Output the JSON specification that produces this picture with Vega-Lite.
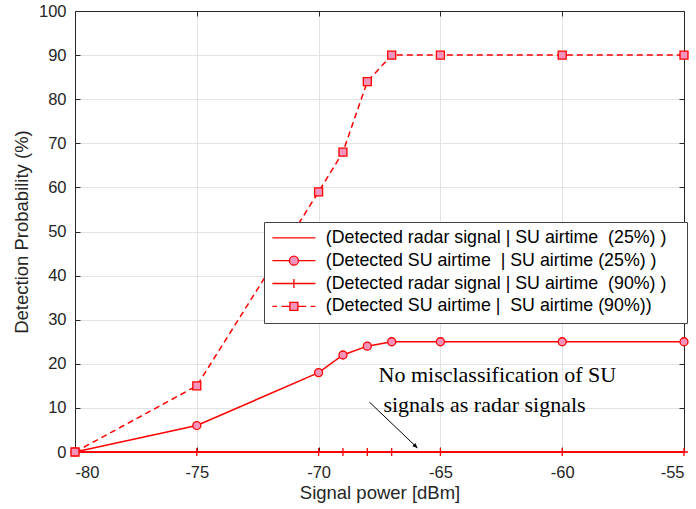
{
  "$schema": "https://vega.github.io/schema/vega-lite/v6.json",
  "width": 609,
  "height": 441,
  "autosize": {"type": "none"},
  "padding": {"left": 75, "top": 11, "right": 12, "bottom": 57},
  "background": "white",
  "config": {
    "view": {"stroke": null},
    "font": "Liberation Sans",
    "axis": {
      "labelFont": "Liberation Sans", "labelFontSize": 16.5, "labelColor": "#262626",
      "titleFont": "Liberation Sans", "titleFontSize": 18.5, "titleFontWeight": "normal", "titleColor": "#262626",
      "domainColor": "#262626", "tickColor": "#262626", "gridColor": "#e3e3e3", "gridWidth": 1,
      "tickSize": -5, "domainWidth": 1
    }
  },
  "datasets": {
    "curves": [
      {"s": "r25", "x": -80, "y": 0}, {"s": "r25", "x": -75, "y": 0}, {"s": "r25", "x": -70, "y": 0},
      {"s": "r25", "x": -69, "y": 0}, {"s": "r25", "x": -68, "y": 0}, {"s": "r25", "x": -67, "y": 0},
      {"s": "r25", "x": -65, "y": 0}, {"s": "r25", "x": -60, "y": 0}, {"s": "r25", "x": -55, "y": 0},
      {"s": "s25", "x": -80, "y": 0}, {"s": "s25", "x": -75, "y": 6}, {"s": "s25", "x": -70, "y": 18},
      {"s": "s25", "x": -69, "y": 22}, {"s": "s25", "x": -68, "y": 24}, {"s": "s25", "x": -67, "y": 25},
      {"s": "s25", "x": -65, "y": 25}, {"s": "s25", "x": -60, "y": 25}, {"s": "s25", "x": -55, "y": 25},
      {"s": "r90", "x": -80, "y": 0}, {"s": "r90", "x": -75, "y": 0}, {"s": "r90", "x": -70, "y": 0},
      {"s": "r90", "x": -69, "y": 0}, {"s": "r90", "x": -68, "y": 0}, {"s": "r90", "x": -67, "y": 0},
      {"s": "r90", "x": -65, "y": 0}, {"s": "r90", "x": -60, "y": 0}, {"s": "r90", "x": -55, "y": 0},
      {"s": "s90", "x": -80, "y": 0}, {"s": "s90", "x": -75, "y": 15}, {"s": "s90", "x": -70, "y": 59},
      {"s": "s90", "x": -69, "y": 68}, {"s": "s90", "x": -68, "y": 84}, {"s": "s90", "x": -67, "y": 90},
      {"s": "s90", "x": -65, "y": 90}, {"s": "s90", "x": -60, "y": 90}, {"s": "s90", "x": -55, "y": 90}
    ],
    "notes": [
      {"x": -67.54, "y": 15.9, "t": "No misclassification of SU"},
      {"x": -67.34, "y": 9.1, "t": "signals as radar signals"}
    ],
    "arrow": [
      {"x": -67.91, "y": 11.3, "x2": -65.94, "y2": 0.9}
    ]
  },
  "layer": [
    {
      "data": {"name": "curves"},
      "transform": [{"filter": "datum.s != 's90'"}],
      "mark": {"type": "line", "color": "red", "strokeWidth": 1.5},
      "encoding": {
        "x": {"field": "x", "type": "quantitative",
              "scale": {"domain": [-80, -55], "nice": false, "zero": false},
              "axis": {"orient": "bottom", "values": [-80, -75, -70, -65, -60, -55], "labelExpr": "toString(datum.value)", "title": "Signal power [dBm]", "grid": true, "labelPadding": 17, "titlePadding": 3}},
        "y": {"field": "y", "type": "quantitative",
              "scale": {"domain": [0, 100], "nice": false},
              "axis": {"orient": "left", "values": [0, 10, 20, 30, 40, 50, 60, 70, 80, 90, 100], "labelExpr": "toString(datum.value)", "title": "Detection Probability (%)", "grid": true, "labelPadding": 14, "titlePadding": 7}},
        "detail": {"field": "s"}
      }
    },
    {
      "data": {"name": "curves"},
      "transform": [{"filter": "datum.s == 's90'"}],
      "mark": {"type": "line", "color": "red", "strokeWidth": 1.5, "strokeDash": [6, 4]},
      "encoding": {
        "x": {"field": "x", "type": "quantitative", "axis": null},
        "y": {"field": "y", "type": "quantitative", "axis": null}
      }
    },
    {
      "data": {"name": "curves"},
      "mark": {"type": "point", "opacity": 0},
      "encoding": {
        "x": {"field": "x", "type": "quantitative",
              "axis": {"orient": "top", "values": [-80, -75, -70, -65, -60, -55], "labels": false, "title": null, "grid": false}},
        "y": {"field": "y", "type": "quantitative",
              "axis": {"orient": "right", "values": [0, 10, 20, 30, 40, 50, 60, 70, 80, 90, 100], "labels": false, "title": null, "grid": false}}
      }
    },
    {
      "data": {"name": "curves"},
      "transform": [{"filter": "datum.s == 's25'"}],
      "mark": {"type": "point", "shape": "circle", "filled": true, "fill": "#f794bd", "stroke": "red", "strokeWidth": 1.3, "size": 64, "opacity": 1},
      "encoding": {
        "x": {"field": "x", "type": "quantitative", "axis": null},
        "y": {"field": "y", "type": "quantitative", "axis": null}
      }
    },
    {
      "data": {"name": "curves"},
      "transform": [{"filter": "datum.s == 'r90'"}],
      "mark": {"type": "point", "shape": "M-1,0H1M0,-1V1", "filled": false, "stroke": "red", "strokeWidth": 1.3, "size": 64, "opacity": 1},
      "encoding": {
        "x": {"field": "x", "type": "quantitative", "axis": null},
        "y": {"field": "y", "type": "quantitative", "axis": null}
      }
    },
    {
      "data": {"name": "curves"},
      "transform": [{"filter": "datum.s == 's90'"}],
      "mark": {"type": "point", "shape": "square", "filled": true, "fill": "#f794bd", "stroke": "red", "strokeWidth": 1.3, "size": 64, "opacity": 1},
      "encoding": {
        "x": {"field": "x", "type": "quantitative", "axis": null},
        "y": {"field": "y", "type": "quantitative", "axis": null}
      }
    },
    {
      "data": {"name": "curves"},
      "mark": {"type": "point", "filled": true, "strokeWidth": 1.3, "opacity": 0},
      "encoding": {
        "x": {"field": "x", "type": "quantitative", "axis": null},
        "y": {"field": "y", "type": "quantitative", "axis": null},
        "stroke": {"field": "s", "type": "nominal",
          "scale": {"domain": ["r25", "s25", "r90", "s90"], "range": ["red", "red", "red", "red"]},
          "legend": {"orient": "none", "legendX": 189, "legendY": 211, "title": null}},
        "fill": {"field": "s", "type": "nominal",
          "scale": {"domain": ["r25", "s25", "r90", "s90"], "range": ["#f794bd", "#f794bd", "#f794bd", "#f794bd"]},
          "legend": {"orient": "none", "legendX": 189, "legendY": 211, "title": null}},
        "shape": {"field": "s", "type": "nominal",
          "scale": {"domain": ["r25", "s25", "r90", "s90"],
                    "range": [
                      "M-1.875,0H8.875",
                      "M-1.875,0H2.375M4.625,0H8.875M2.375,0A1.125,1.125,0,1,1,4.625,0A1.125,1.125,0,1,1,2.375,0Z",
                      "M-1.875,0H8.875M3.5,-1.1V1.1",
                      "M-1.875,0H-0.7M0.4,0H2.5M2.5,-1H4.5V1H2.5ZM4.5,0H6.6M7.7,0H8.875"
                    ]},
          "legend": {
            "orient": "none", "legendX": 189, "legendY": 211, "title": null,
            "labelExpr": "datum.value == 'r25' ? '(Detected radar signal | SU airtime\u00a0 (25%) )' : datum.value == 's25' ? '(Detected SU airtime\u00a0 | SU airtime (25%) )' : datum.value == 'r90' ? '\u2009(Detected radar signal | SU airtime\u00a0 (90%) )\u2800' : '(Detected SU airtime |\u00a0 SU airtime (90%))'",
            "labelFont": "Liberation Sans", "labelFontSize": 17.8, "labelColor": "#000000", "labelLimit": 500,
            "symbolSize": 64, "symbolOpacity": 1, "symbolStrokeWidth": 1.3,
            "labelOffset": 37, "padding": 7, "rowPadding": 3.8,
            "strokeColor": "#444444", "fillColor": "white", "cornerRadius": 0,
            "encode": {"symbols": {"strokeWidth": {"value": 1.3}, "opacity": {"value": 1}}}
          }
        }
      }
    },
    {
      "data": {"name": "notes"},
      "mark": {"type": "text", "align": "left", "baseline": "alphabetic", "font": "Liberation Serif", "fontSize": 22, "color": "black"},
      "encoding": {
        "x": {"field": "x", "type": "quantitative", "axis": null},
        "y": {"field": "y", "type": "quantitative", "axis": null},
        "text": {"field": "t"}
      }
    },
    {
      "data": {"name": "arrow"},
      "mark": {"type": "rule", "color": "black", "strokeWidth": 1},
      "encoding": {
        "x": {"field": "x", "type": "quantitative", "axis": null},
        "y": {"field": "y", "type": "quantitative", "axis": null},
        "x2": {"field": "x2"},
        "y2": {"field": "y2"}
      }
    },
    {
      "data": {"name": "arrow"},
      "mark": {"type": "point", "shape": "M0,0L-1,-0.45L-1,0.45Z", "filled": true, "color": "black", "size": 100, "angle": 43.8, "opacity": 1},
      "encoding": {
        "x": {"field": "x2", "type": "quantitative", "axis": null},
        "y": {"field": "y2", "type": "quantitative", "axis": null}
      }
    }
  ],
  "resolve": {"axis": {"x": "independent", "y": "independent"}}
}
